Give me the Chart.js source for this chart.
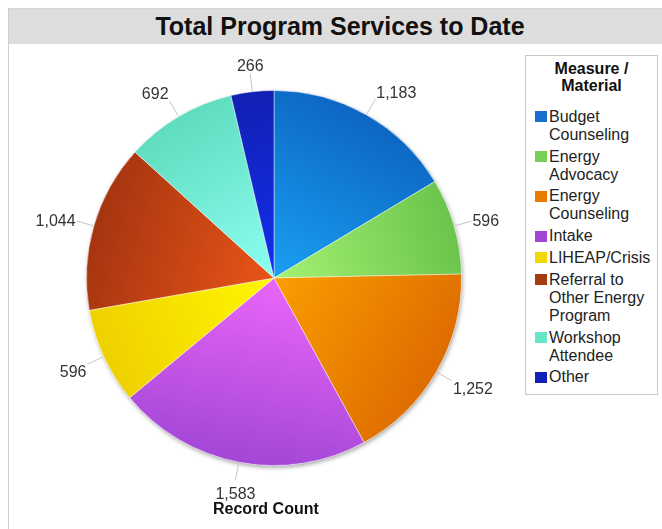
<!DOCTYPE html>
<html>
<head>
<meta charset="utf-8">
<script src="https://cdn.jsdelivr.net/npm/chart.js@4.4.1/dist/chart.umd.min.js"></script>
<style>
  html, body { margin: 0; padding: 0; background: #fff; }
  body { width: 662px; height: 529px; position: relative; overflow: hidden; font-family: "Liberation Sans", Arial, sans-serif; }
  .panel { position: absolute; left: 8px; top: 8px; width: 670px; height: 540px; border-left: 1px solid #cfcfcf; border-top: 1px solid #d6d6d6; }
  .panel-title { height: 35px; line-height: 35px; background: #dddddd; text-align: center; font-weight: bold; font-size: 25px; color: #111; padding-right: 8px; }
  #chart { position: absolute; left: 0; top: 0; }
  .legend { position: absolute; left: 525px; top: 55px; width: 133px; height: 340px; box-sizing: border-box; border: 1px solid #c8c8c8; background: #fff; }
  .legend h4 { margin: 0; padding-top: 3.5px; font-size: 16px; line-height: 17px; text-align: center; font-weight: bold; color: #111; }
  .legend ul { list-style: none; margin: 14.4px 0 0 0; padding: 0 0 0 9px; }
  .legend li { display: flex; margin-top: 3.8px; font-size: 16px; line-height: 18px; color: #222; }
  .legend li:first-child { margin-top: 0; }
  .legend .sw { flex: none; width: 12px; height: 11px; margin-top: 3.3px; margin-right: 2px; }
  .legend .tx { width: 106px; }
</style>
</head>
<body>
<div class="panel"><div class="panel-title">Total Program Services to Date</div></div>
<canvas id="chart" width="662" height="529"></canvas>
<div class="legend" id="legend"><h4>Measure /<br>Material</h4><ul></ul></div>
<script>
// Measure / Material categories and their record counts
const categories = ['Budget Counseling', 'Energy Advocacy', 'Energy Counseling', 'Intake',
  'LIHEAP/Crisis', 'Referral to Other Energy Program', 'Workshop Attendee', 'Other'];
const recordCounts = [1183, 596, 1252, 1583, 596, 1044, 692, 266];

// flat colours for the legend, gradient stops for the slices (centre -> rim)
const legendColors = ['#1b6fd0', '#77cf57', '#e97a00', '#a545d8', '#f0d800', '#a83a12', '#66e6c6', '#1222b8'];
const innerColors = ['#1a9ff2', '#a4f273', '#fa9e00', '#ea66fa', '#fff700', '#ea5418', '#8cfff2', '#1030ee'];
const outerColors = ['#0c66c2', '#6cc44c', '#de6c00', '#a346d6', '#efd000', '#a53510', '#5fdcbe', '#1220b2'];

// legend
const ul = document.querySelector('#legend ul');
categories.forEach((name, i) => {
  const li = document.createElement('li');
  li.innerHTML = '<span class="sw" style="background:' + legendColors[i] + '"></span><span class="tx"></span>';
  li.querySelector('.tx').textContent = name;
  ul.appendChild(li);
});

const total = recordCounts.reduce((s, v) => s + v, 0);

// linear gradient along each slice's bisector, light at the centre, dark at the rim
function sliceGradient(context) {
  const chart = context.chart;
  const area = chart.chartArea;
  if (!area) return legendColors[context.dataIndex];
  const i = context.dataIndex;
  const cx = (area.left + area.right) / 2;
  const cy = (area.top + area.bottom) / 2;
  const r = Math.min(area.right - area.left, area.bottom - area.top) / 2;
  let before = 0;
  for (let k = 0; k < i; k++) before += recordCounts[k];
  const mid = -Math.PI / 2 + 2 * Math.PI * (before + recordCounts[i] / 2) / total;
  const g = chart.ctx.createLinearGradient(cx, cy, cx + Math.cos(mid) * r, cy + Math.sin(mid) * r);
  g.addColorStop(0, innerColors[i]);
  g.addColorStop(1, outerColors[i]);
  return g;
}

// soft shadow under the pie
const shadowPlugin = {
  id: 'shadowPlugin',
  beforeDatasetsDraw(chart) {
    const arc = chart.getDatasetMeta(0).data[0];
    if (!arc) return;
    const { ctx } = chart;
    ctx.save();
    ctx.shadowColor = 'rgba(0,0,0,0.35)';
    ctx.shadowBlur = 4;
    ctx.shadowOffsetX = 1;
    ctx.shadowOffsetY = 2;
    ctx.fillStyle = '#fff';
    ctx.beginPath();
    ctx.arc(arc.x, arc.y, arc.outerRadius, 0, Math.PI * 2);
    ctx.fill();
    ctx.restore();
  }
};

// outside value labels with leader lines + "Record Count"
const outsideLabels = {
  id: 'outsideLabels',
  afterDatasetsDraw(chart) {
    const { ctx } = chart;
    const meta = chart.getDatasetMeta(0);
    ctx.save();
    ctx.font = '16px "Liberation Sans", Arial, sans-serif';
    ctx.textBaseline = 'middle';
    meta.data.forEach((arc, i) => {
      const mid = (arc.startAngle + arc.endAngle) / 2;
      const dx = Math.cos(mid), dy = Math.sin(mid);
      const r = arc.outerRadius;
      const x0 = arc.x + dx * (r + 1), y0 = arc.y + dy * (r + 1);
      const x1 = arc.x + dx * (r + 18), y1 = arc.y + dy * (r + 18);
      ctx.strokeStyle = '#c4c4c4';
      ctx.lineWidth = 1;
      ctx.beginPath();
      ctx.moveTo(x0, y0);
      ctx.lineTo(x1, y1);
      ctx.stroke();
      let tx = x1;
      if (dx > 0.25) { ctx.textAlign = 'left'; tx = x1 + 1; }
      else if (dx < -0.25) { ctx.textAlign = 'right'; tx = x1 - 1; }
      else ctx.textAlign = 'center';
      ctx.fillStyle = '#333';
      ctx.fillText(recordCounts[i].toLocaleString('en-US'), tx, y1 + dy * 11 + 3.5);
    });
    ctx.font = 'bold 16px "Liberation Sans", Arial, sans-serif';
    ctx.textAlign = 'left';
    ctx.fillStyle = '#111';
    ctx.fillText('Record Count', 213, 510);
    ctx.restore();
  }
};

new Chart(document.getElementById('chart').getContext('2d'), {
  type: 'pie',
  data: {
    labels: categories,
    datasets: [{
      data: recordCounts,
      backgroundColor: sliceGradient,
      borderColor: 'rgba(255,255,255,0.45)',
      borderWidth: 1,
    }],
  },
  options: {
    responsive: false,
    animation: false,
    layout: { padding: { left: 86, right: 200, top: 90, bottom: 63 } },
    plugins: {
      legend: { display: false },
      tooltip: { enabled: false },
    },
  },
  plugins: [shadowPlugin, outsideLabels],
});
</script>
</body>
</html>
